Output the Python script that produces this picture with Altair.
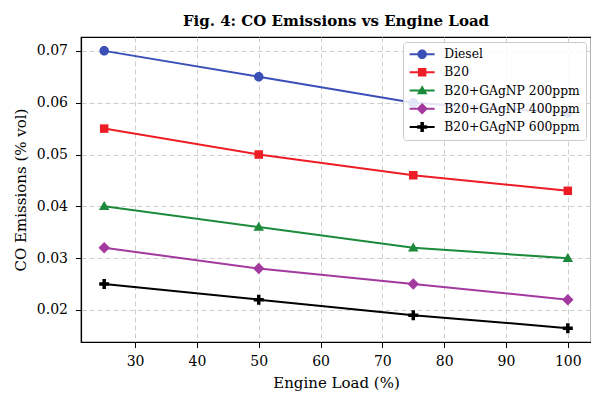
import altair as alt
import pandas as pd

loads = [25, 50, 75, 100]
series = ["Diesel", "B20", "B20+GAgNP 200ppm", "B20+GAgNP 400ppm", "B20+GAgNP 600ppm"]
diesel = [0.070, 0.065, 0.060, 0.058]
b20 = [0.055, 0.050, 0.046, 0.043]
np200 = [0.040, 0.036, 0.032, 0.030]
np400 = [0.032, 0.028, 0.025, 0.022]
np600 = [0.025, 0.022, 0.019, 0.0165]
colors = ["#3b4fb8", "#ee1c25", "#1b8a3a", "#a3399e", "#000000"]

values = [diesel, b20, np200, np400, np600]
rows = []
for s, vals in zip(series, values):
    for l, v in zip(loads, vals):
        rows.append({"load": l, "co": v, "series": s})
df = pd.DataFrame(rows)

markers = [
    "M0.95,0A0.95,0.95,0,1,1,-0.95,0A0.95,0.95,0,1,1,0.95,0Z",
    "M-0.85,-0.85H0.85V0.85H-0.85Z",
    "M0,-1.05L1.05,0.75L-1.05,0.75Z",
    "M0,-1.15L1.15,0L0,1.15L-1.15,0Z",
    "M-0.35,-1H0.35V-0.35H1V0.35H0.35V1H-0.35V0.35H-1V-0.35H-0.35Z",
]
line_part = "M-2.5,-0.2H2.5V0.2H-2.5Z "
legend_shapes = [line_part + m for m in markers]

FONT = "DejaVu Serif"
xenc = alt.X("load:Q", scale=alt.Scale(domain=[21.25, 103.75], nice=False, zero=False),
             axis=alt.Axis(values=[30, 40, 50, 60, 70, 80, 90, 100], title="Engine Load (%)"))
yenc = alt.Y("co:Q", scale=alt.Scale(domain=[0.013825, 0.072675], nice=False, zero=False),
             axis=alt.Axis(values=[0.02, 0.03, 0.04, 0.05, 0.06, 0.07], format=".2f",
                           title="CO Emissions (% vol)"))

base = alt.Chart(df)
layers = []
for s, c in zip(series, colors):
    layers.append(base.transform_filter(alt.datum.series == s)
                  .mark_line(strokeWidth=2, color=c).encode(x=xenc, y=yenc))
for s, c, m in zip(series, colors, markers):
    layers.append(base.transform_filter(alt.datum.series == s)
                  .mark_point(filled=True, opacity=1, size=100, color=c, shape=m)
                  .encode(x=xenc, y=yenc))

leg = alt.Legend(title=None, orient="top-right", offset=5, padding=6,
                 fillColor="rgba(255,255,255,0.85)", strokeColor="#cccccc", cornerRadius=3,
                 labelFont=FONT, labelFontSize=12.3, labelColor="black",
                 symbolSize=100, symbolOpacity=1, symbolStrokeWidth=0,
                 symbolOffset=7, labelOffset=16, rowPadding=5.2)
legend_layer = base.mark_point(filled=True, opacity=0, size=100).encode(
    x=xenc, y=yenc,
    color=alt.Color("series:N", scale=alt.Scale(domain=series, range=colors), legend=leg),
    shape=alt.Shape("series:N", scale=alt.Scale(domain=series, range=legend_shapes), legend=leg))
layers.append(legend_layer)

chart = alt.layer(*layers).properties(
    width=510, height=305,
    title=alt.TitleParams("Fig. 4: CO Emissions vs Engine Load", font=FONT, fontSize=15,
                          fontWeight="bold", anchor="middle", offset=8, color="black"),
    autosize=alt.AutoSizeParams(type="none"),
    padding={"left": 73, "top": 29, "right": 0, "bottom": 50},
).configure_view(stroke="black", strokeWidth=1.2).configure_axis(
    labelFont=FONT, labelFontSize=14, labelColor="black",
    titleFont=FONT, titleFontSize=15, titleFontWeight="normal", titleColor="black",
    domainColor="black", domainWidth=1.2, tickColor="black", tickSize=5.5, tickWidth=1,
    grid=True, gridColor="#cfcfcf", gridDash=[5, 3], gridWidth=1,
).configure_axisX(labelPadding=7, titlePadding=7).configure_axisY(labelPadding=8, titlePadding=8)

chart.save("out.html", embed_options={"renderer": "svg", "actions": False})
